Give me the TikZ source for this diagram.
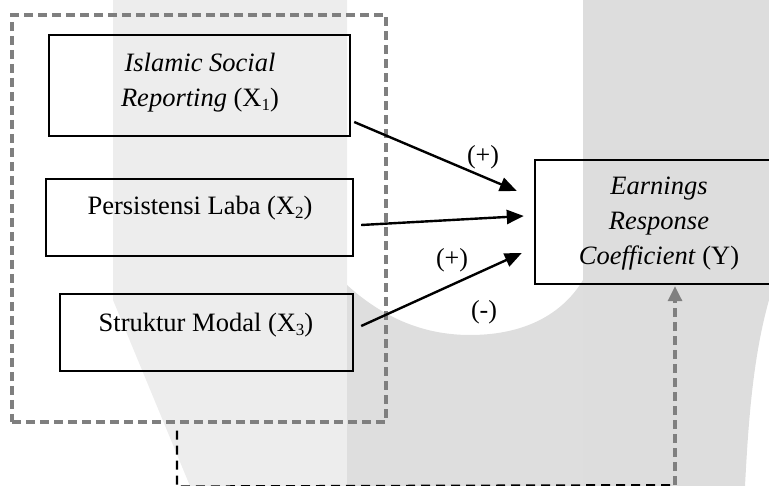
\documentclass[tikz,border=0pt]{standalone}
\usepackage{fontspec}
\setmainfont{Liberation Serif}
\usetikzlibrary{arrows.meta,calc}
\definecolor{bandL}{HTML}{EDEDED}
\definecolor{bandR}{HTML}{DDDDDD}
\definecolor{bandM}{HTML}{DEDEDE}
\definecolor{dgray}{HTML}{7F7F7F}
\newcommand{\sbx}[1]{\raisebox{-4pt}{\fontsize{17}{17}\selectfont #1}}
\begin{document}
\begin{tikzpicture}[x=1pt,y=-1pt,
  box/.style={draw=black,line width=2.4pt,rectangle,inner sep=0pt},
  grpbox/.style={draw=dgray,line width=3.2pt,rectangle,inner sep=0pt,dash pattern=on 9pt off 5pt},
  txt/.style={anchor=base,inner sep=0pt,font=\fontsize{26.5}{35}\selectfont},
  sgn/.style={inner sep=0pt,font=\fontsize{26}{30}\selectfont},
  arr/.style={line width=2.4pt,-{Triangle[length=17pt,width=14pt]}},
  blkdash/.style={line width=2.4pt,dash pattern=on 9pt off 6pt},
  grayarr/.style={draw=dgray,line width=3.2pt,dash pattern=on 9pt off 5pt,-{Triangle[length=15pt,width=14pt]}}
]
\clip (0,0) rectangle (769,486);
% watermark background
\fill[bandL] (113,0) -- (347,0) -- (347,486) -- (190,486) -- (113,300) -- cycle;
\fill[bandR] (583,0) -- (769,0) -- (769,300) .. controls (752,360) and (748,430) .. (745,486) -- (583,486) -- cycle;
\fill[bandM] (347,486) -- (347,285) .. controls (380,315) and (420,335) .. (470,335)
  .. controls (530,335) and (565,310) .. (583,280) -- (583,486) -- cycle;

% group box
\node[grpbox,minimum width=374pt,minimum height=407pt] (grp) at (199,218.5) {};
% boxes
\node[box,minimum width=301pt,minimum height=101pt] (x1) at (199.5,85.5) {};
\node[box,minimum width=307pt,minimum height=77pt] (x2) at (199.5,217.5) {};
\node[box,minimum width=293pt,minimum height=77pt] (x3) at (206.5,332.5) {};
\node[box,minimum width=248pt,minimum height=124pt] (y) at (659,222) {};

% texts
\node[txt] (t1a) at (200,72) {\textit{Islamic Social}};
\node[txt] (t1b) at (200,107) {\textit{Reporting} (X\sbx{1})};
\node[txt] (t2) at (200,215) {Persistensi Laba (X\sbx{2})};
\node[txt] (t3) at (206,332) {Struktur Modal (X\sbx{3})};
\node[txt] (ya) at (659,195) {\textit{Earnings}};
\node[txt] (yb) at (659,230) {\textit{Response}};
\node[txt] (yc) at (659,265) {\textit{Coefficient} (Y)};

% arrows
\coordinate (e1) at ($(y.west)+(-17,-31)$);
\coordinate (e2) at ($(y.west)+(-10,-6)$);
\coordinate (e3) at ($(y.west)+(-12,31)$);
\draw[arr] ($(x1.east)+(3,36.5)$) -- (e1);
\draw[arr] ($(x2.east)+(7,7.5)$) -- (e2);
\draw[arr] ($(x3.east)+(7,-6.5)$) -- (e3);

% signs
\node[sgn] (s1) at (483,157) {(+)};
\node[sgn] (s2) at (452,260) {(+)};
\node[sgn] (s3) at (484,312) {(-)};

% feedback dashed path
\coordinate (c0) at ($(grp.south)+(-22,7)$);
\coordinate (c1) at ($(grp.south)+(-22,63)$);
\coordinate (c2) at ($(y.south)+(16,200)$);
\draw[blkdash] (c0) -- (c1) -- (c2);
\draw[grayarr] (c2) -- ($(y.south)+(16,1)$);
\end{tikzpicture}
\end{document}
